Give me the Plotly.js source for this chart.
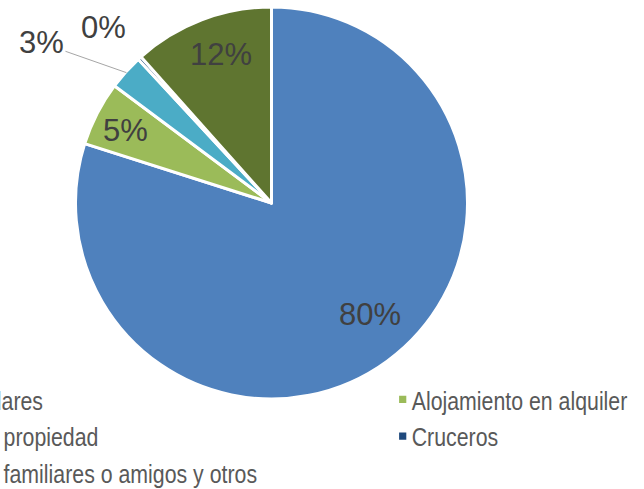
<!DOCTYPE html>
<html>
<head>
<meta charset="utf-8">
<script src="https://cdn.plot.ly/plotly-3.0.1.min.js"></script>
<style>
html,body{margin:0;padding:0;overflow:hidden;width:644px;height:489px;background:#ffffff}
#chart{position:absolute;left:-200px;top:0;width:1250px;height:489px}
.legendpie{transform:translate(31px,0px) scale(0.6)!important;stroke-width:0!important}
.legendtext{transform:scaleX(0.82);transform-origin:40px 0px}
</style>
</head>
<body>
<div id="chart"></div>
<script>
// ---- data ----
var categories = ["Hotel y similares", "Alojamiento en alquiler", "Vivienda en propiedad", "Cruceros", "Vivienda de familiares o amigos y otros"];
var shares = [79.9, 5.3, 2.9, 0.3, 11.6];
var sliceColors = ["#4F81BD", "#9BBB59", "#4BACC6", "#1F497D", "#5F7530"];

// ---- label placement style (fraction of radius, angle nudge in degrees) ----
var labelRadius = [0.76, 0.83, 1.43, 1.24, 0.80];
var labelAngleShift = [-5.2, -0.9, -7.1, -1.4, 1.9];
var labelArrow = [false, false, true, false, false];

// ---- geometry ----
var FW = 1250, FH = 489, SHIFT = 200, MB = 90;
var PH = FH - MB;
var CX = 271.5, CY = 203, R = 196;

var total = shares.reduce(function(a, b){ return a + b; }, 0);
function px(x){ return (x + SHIFT) / FW; }
function py(y){ return 1 - y / PH; }

var annotations = [];
var cum = 0;
for (var i = 0; i < shares.length; i++) {
  var a0 = cum / total * 360;
  cum += shares[i];
  var a1 = cum / total * 360;
  var mid = (a0 + a1) / 2;
  var ang = (mid + labelAngleShift[i]) * Math.PI / 180;
  var d = labelRadius[i] * R;
  var tx = CX + d * Math.sin(ang), ty = CY - d * Math.cos(ang);
  var txt = Math.round(shares[i] / total * 100) + "%";
  var fnt = {family: "Liberation Sans, Arial, sans-serif", size: 31, color: "#404040"};
  if (labelArrow[i]) {
    var ma = mid * Math.PI / 180;
    var ex = CX + (R - 1) * Math.sin(ma), ey = CY - (R - 1) * Math.cos(ma);
    annotations.push({xref: "paper", yref: "paper", x: px(ex), y: py(ey),
      ax: tx - ex, ay: ty - ey, showarrow: true, arrowhead: 0, arrowwidth: 1,
      arrowcolor: "#A6A6A6", text: txt, font: fnt});
  } else {
    annotations.push({xref: "paper", yref: "paper", x: px(tx), y: py(ty),
      xanchor: "center", yanchor: "middle", showarrow: false, text: txt, font: fnt});
  }
}

var trace = {
  type: "pie",
  labels: categories,
  values: shares,
  sort: false,
  direction: "clockwise",
  rotation: 0,
  textinfo: "none",
  hoverinfo: "none",
  marker: {colors: sliceColors, line: {color: "#ffffff", width: 3}},
  domain: {x: [px(CX - R), px(CX + R)], y: [py(CY + R), py(CY - R)]}
};

var layout = {
  width: FW, height: FH,
  margin: {l: 0, r: 0, t: 0, b: MB, autoexpand: false},
  paper_bgcolor: "#ffffff",
  showlegend: true,
  legend: {
    orientation: "h",
    x: (SHIFT - 113.3 - 40) / FW, xanchor: "left",
    y: 1 - 376 / PH, yanchor: "top",
    entrywidth: 480, entrywidthmode: "pixels",
    font: {family: "Liberation Sans, Arial, sans-serif", size: 26, color: "#595959"},
    bgcolor: "rgba(0,0,0,0)"
  },
  annotations: annotations
};

Plotly.newPlot("chart", [trace], layout, {displayModeBar: false, staticPlot: true});
</script>
</body>
</html>
